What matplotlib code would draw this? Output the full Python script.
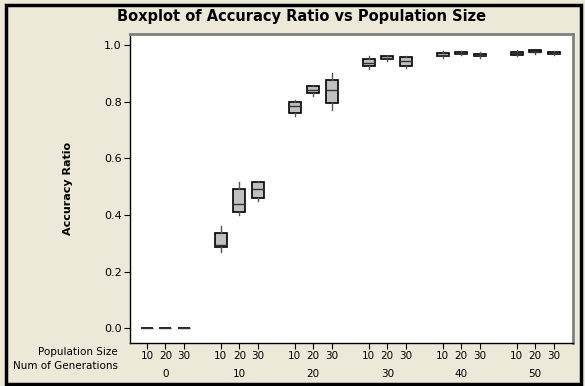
import matplotlib
matplotlib.use("Agg")
import matplotlib.pyplot as plt
from matplotlib.patches import Rectangle
from matplotlib.transforms import blended_transform_factory

# Data: one entry per (generations, population size) box
generations = [0, 10, 20, 30, 40, 50]
pop_sizes = [10, 20, 30]

# whisker low, Q1, median, Q3, whisker high, in group/population order
whislo = [0, 0, 0, 0.270, 0.400, 0.450, 0.750, 0.820, 0.770, 0.915, 0.945, 0.920,
          0.955, 0.965, 0.955, 0.960, 0.970, 0.965]
q1 = [0, 0, 0, 0.285, 0.410, 0.460, 0.760, 0.830, 0.795, 0.925, 0.950, 0.925,
      0.960, 0.968, 0.960, 0.965, 0.974, 0.968]
med = [0, 0, 0, 0.295, 0.440, 0.490, 0.785, 0.840, 0.840, 0.935, 0.955, 0.945,
       0.965, 0.972, 0.965, 0.972, 0.977, 0.972]
q3 = [0, 0, 0, 0.335, 0.490, 0.515, 0.800, 0.855, 0.875, 0.950, 0.962, 0.958,
      0.972, 0.976, 0.970, 0.976, 0.981, 0.976]
whishi = [0, 0, 0, 0.360, 0.515, 0.520, 0.805, 0.860, 0.900, 0.960, 0.965, 0.962,
          0.978, 0.980, 0.975, 0.982, 0.984, 0.978]

bg = "#ECE9D8"
fig = plt.figure(figsize=(5.85, 3.86), dpi=100, facecolor=bg)
ax = fig.add_axes([0.222, 0.111, 0.757, 0.801])

stats = []
positions = []
labels = []
for i in range(len(med)):
    g, k = divmod(i, 3)
    positions.append(4 * g + k)
    labels.append(str(pop_sizes[k]))
    stats.append({"whislo": whislo[i], "q1": q1[i], "med": med[i],
                  "q3": q3[i], "whishi": whishi[i], "fliers": []})

ax.bxp(stats, positions=positions, widths=0.65, patch_artist=True,
       showcaps=False,
       boxprops=dict(facecolor="#C0C0C0", edgecolor="black", linewidth=1.2),
       medianprops=dict(color="#333333", linewidth=1.0),
       whiskerprops=dict(color="#555555", linewidth=1.0))

ax.set_xlim(-0.92, 23.03)
ax.set_ylim(-0.053, 1.039)
ax.set_yticks([0.0, 0.2, 0.4, 0.6, 0.8, 1.0])
ax.set_yticklabels(["0.0", "0.2", "0.4", "0.6", "0.8", "1.0"])
ax.set_xticks(positions)
ax.set_xticklabels(labels)
ax.tick_params(axis="both", direction="out", length=4, width=0.8, color="black",
               labelsize=7.5, pad=2)
ax.tick_params(axis="y", labelsize=8)

for side in ["left", "bottom"]:
    ax.spines[side].set_color("black")
    ax.spines[side].set_linewidth(1.0)
for side in ["top", "right"]:
    ax.spines[side].set_color("#808080")
    ax.spines[side].set_linewidth(2.0)

# generation labels under each group
trans = blended_transform_factory(ax.transData, ax.transAxes)
for g, gen in enumerate(generations):
    ax.text(4 * g + 1, -0.083, str(gen), transform=trans, ha="center", va="top",
            fontsize=7.5)

fig.text(118 / 585, 1 - 352 / 386, "Population Size", ha="right", va="center",
         fontsize=7.5)
fig.text(118 / 585, 1 - 366 / 386, "Num of Generations", ha="right", va="center",
         fontsize=7.5)

ax.set_ylabel("Accuracy Ratio", fontsize=8, fontweight="bold", labelpad=22)
fig.text(302 / 585, 1 - 17 / 386, "Boxplot of Accuracy Ratio vs Population Size",
         ha="center", va="center", fontsize=10.5, fontweight="bold")

# black frame around the figure
fig.patches.append(Rectangle((0.01, 0.006), 0.983, 0.98, transform=fig.transFigure,
                             fill=False, edgecolor="black", linewidth=2.5))

fig.savefig("out.png", dpi=100, facecolor=bg)
